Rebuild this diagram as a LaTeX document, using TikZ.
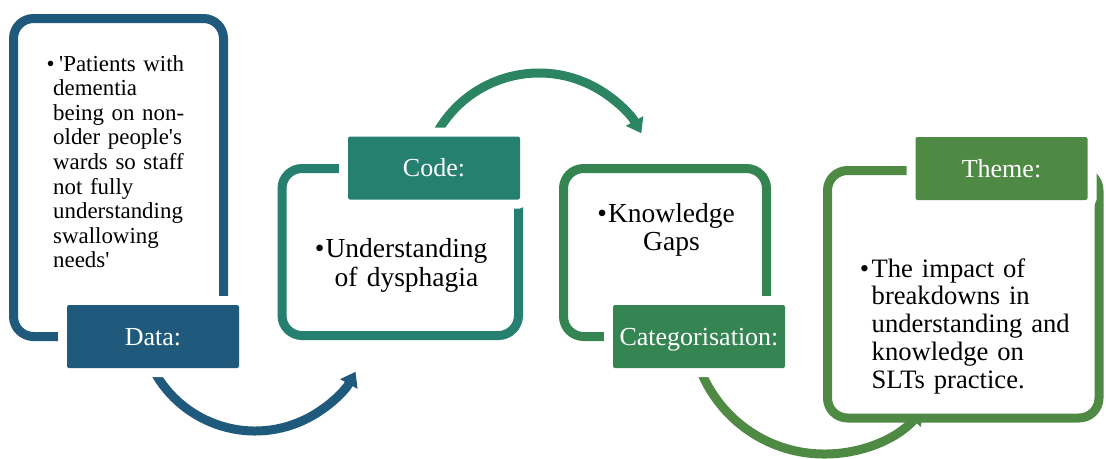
\documentclass[tikz,border=0pt]{standalone}
\usepackage{fontspec}
\setmainfont{Liberation Serif}
\usetikzlibrary{arrows.meta}

\definecolor{dataBlue}{RGB}{31,90,125}
\definecolor{codeTeal}{RGB}{38,128,112}
\definecolor{flowTeal}{RGB}{43,133,98}
\definecolor{catGreen}{RGB}{53,133,82}
\definecolor{themeGreen}{RGB}{79,138,69}

\begin{document}
\begin{tikzpicture}[x=1pt,y=1pt,
  stagebox/.style={shape=rectangle, draw=#1, fill=white, line width=9pt,
    rounded corners=20pt, inner sep=0pt},
  tag/.style={shape=rectangle, fill=#1, preaction={draw=white, line width=18pt},
    rounded corners=2pt, minimum width=172pt, minimum height=63pt, inner sep=0pt,
    text=white, font=\fontsize{26}{30}\selectfont, text height=17.2pt, text depth=0pt},
  flow/.style={draw=#1, line width=9pt, -{Triangle[width=19pt,length=14pt]}},
  body/.style={inner sep=0pt, text=black}
]
\useasboundingbox (0,0) rectangle (1106,-458);

% curved arrows linking the stages (drawn first, stage boxes sit on top)
\path (255,-316) ++(208:115) coordinate (a1s);
\path (539,-190) ++(150:117) coordinate (a2s);
\path (824,-321) ++(203:133) coordinate (a3s);
\draw[flow=dataBlue]   (a1s) arc[start angle=208, end angle=331, radius=115];
\draw[flow=flowTeal]   (a2s) arc[start angle=150, end angle=29,  radius=117];
\draw[flow=themeGreen] (a3s) arc[start angle=203, end angle=318, radius=133];

% stage frames
\node[stagebox=dataBlue,   minimum width=210pt,   minimum height=318pt]   (data)  at (118.5,-177.5) {};
\node[stagebox=codeTeal,   minimum width=236.5pt, minimum height=167pt]   (code)  at (400.25,-252) {};
\node[stagebox=catGreen,   minimum width=203pt,   minimum height=168pt]   (cat)   at (665,-252.5) {};
\node[stagebox=themeGreen, minimum width=271.5pt, minimum height=247.5pt] (theme) at (963.25,-294.25) {};

% stage titles
\node[tag=dataBlue]   (dataTag)  at (153,-336.5) {Data:};
\node[tag=codeTeal]   (codeTag)  at (434,-168)   {Code:};
\node[tag=catGreen]   (catTag)   at (699,-336.5) {Categorisation:};
\node[tag=themeGreen] (themeTag) at (1001.5,-168.5) {Theme:};

% stage contents
\node[body, anchor=base west, text width=185pt, align=left,
      font=\fontsize{22.9}{24.6}\selectfont] (dataText) at (53,-71)
  {\hspace*{6pt}\llap{\textbullet\hspace{4.5pt}}\textquotesingle Patients with\\
   dementia\\
   being on non-\\
   older people\textquotesingle s\\
   wards so staff\\
   not fully\\
   understanding\\
   swallowing\\
   needs\textquotesingle};

\node[body, anchor=base, text width=220pt, align=center,
      font=\fontsize{27.5}{29.5}\selectfont] (codeText) at (406.5,-257)
  {\llap{\textbullet\hspace{1pt}}Understanding\\ of dysphagia};

\node[body, anchor=base, text width=190pt, align=center,
      font=\fontsize{27.5}{28.5}\selectfont] (catText) at (671.5,-222)
  {\llap{\textbullet\hspace{1pt}}Knowledge\\ Gaps};

\node[body, anchor=base west, text width=220pt, align=left,
      font=\fontsize{26.6}{27.8}\selectfont] (themeText) at (871.5,-277)
  {\llap{\textbullet\hspace{2.5pt}}The impact of\\
   breakdowns in\\
   understanding and\\
   knowledge on\\
   SLTs practice.};
\end{tikzpicture}
\end{document}
